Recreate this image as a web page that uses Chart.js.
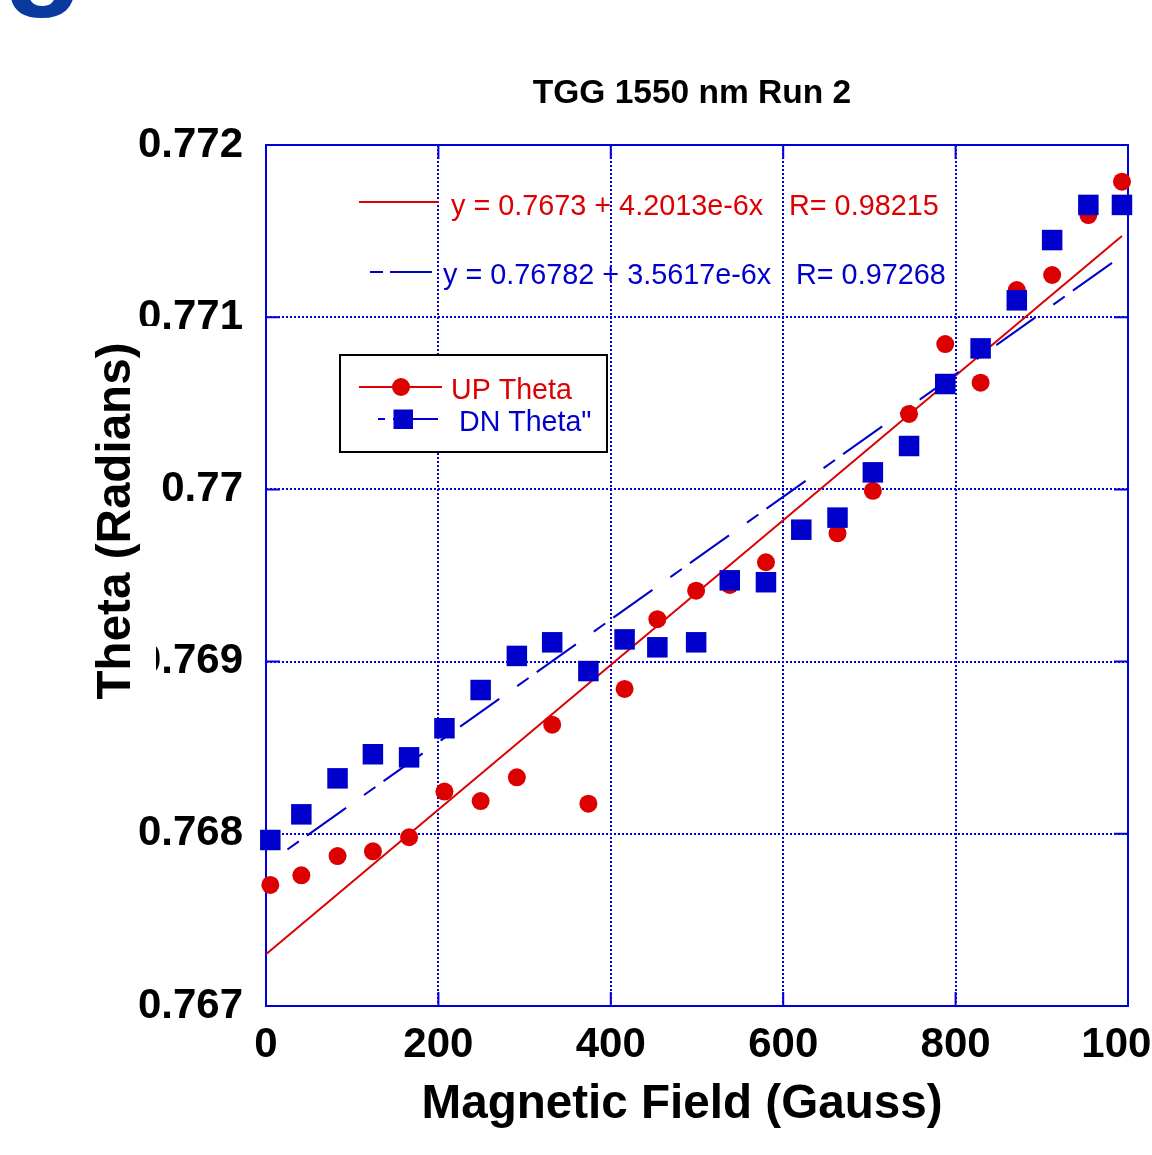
<!DOCTYPE html>
<html>
<head>
<meta charset="utf-8">
<title>TGG 1550 nm Run 2</title>
<script src="https://cdn.jsdelivr.net/npm/chart.js@4.4.1/dist/chart.umd.min.js"></script>
<style>
  html, body { margin: 0; padding: 0; background: #ffffff; }
  #wrap { width: 1152px; height: 1155px; }
  canvas { display: block; }
</style>
</head>
<body>
<div id="wrap"><canvas id="chart" width="1152" height="1155"></canvas></div>
<script>
// Magnetic field settings (Gauss) shared by both sweeps
const fieldGauss = [5, 41, 83, 124, 166, 207, 249, 291, 332, 374, 416, 454, 499,
                    538, 580, 621, 663, 704, 746, 788, 829, 871, 912, 954, 993];

// Rotation angle on the upward sweep (radians)
const upTheta = [0.767703, 0.767759, 0.767871, 0.767898, 0.767980, 0.768245, 0.768190,
                 0.768328, 0.768634, 0.768175, 0.768841, 0.769246, 0.769412, 0.769445,
                 0.769577, 0.769764, 0.769745, 0.769992, 0.770438, 0.770844, 0.770620,
                 0.771158, 0.771245, 0.771593, 0.771787];

// Rotation angle on the downward sweep (radians)
const dnTheta = [0.767964, 0.768113, 0.768322, 0.768462, 0.768444, 0.768613, 0.768835,
                 0.769033, 0.769112, 0.768945, 0.769129, 0.769083, 0.769112, 0.769472,
                 0.769461, 0.769766, 0.769836, 0.770099, 0.770252, 0.770612, 0.770819,
                 0.771098, 0.771448, 0.771652, 0.771652];

// Linear fits printed on the plot
const upFit = { intercept: 0.7673, slope: 4.2013e-6, label: 'y = 0.7673 + 4.2013e-6x', r: 'R= 0.98215' };
const dnFit = { intercept: 0.76782, slope: 3.5617e-6, label: 'y = 0.76782 + 3.5617e-6x', r: 'R= 0.97268' };
const upFitRange = [0, 993];
const dnFitRange = [5, 993];

// Axis ticks
const xTickLabels = ['0', '200', '400', '600', '800', '1000'];
const yTickLabels = ['0.767', '0.768', '0.769', '0.77', '0.771', '0.772'];

const seriesNames = ['UP Theta', 'DN Theta"'];
const chartTitle = 'TGG 1550 nm Run 2';
const xTitle = 'Magnetic Field (Gauss)';
const yTitle = 'Theta (Radians)';

const RED = '#dd0000';
const BLUE = '#0000cc';
const GRID = '#0000dd';
const FONT = "'Liberation Sans', Arial, Helvetica, sans-serif";

const fitLine = (fit, range) => range.map(x => ({ x: x, y: fit.intercept + fit.slope * x }));
const points = (ys) => fieldGauss.map((x, i) => ({ x: x, y: ys[i] }));

// Frame, inner tick marks, fit labels, legend and titles
const decorations = {
  id: 'decorations',
  beforeDatasetsDraw(chart) {
    const { ctx, chartArea: a, scales: { x, y } } = chart;
    ctx.save();
    ctx.strokeStyle = GRID;
    ctx.lineWidth = 2;
    ctx.setLineDash([]);
    ctx.strokeRect(a.left, a.top, a.right - a.left, a.bottom - a.top);
    const t = 14;
    ctx.beginPath();
    x.ticks.forEach(tk => {
      const px = x.getPixelForValue(tk.value);
      ctx.moveTo(px, a.top); ctx.lineTo(px, a.top + t);
      ctx.moveTo(px, a.bottom); ctx.lineTo(px, a.bottom - t);
    });
    y.ticks.forEach(tk => {
      const py = y.getPixelForValue(tk.value);
      ctx.moveTo(a.left, py); ctx.lineTo(a.left + t, py);
      ctx.moveTo(a.right, py); ctx.lineTo(a.right - t, py);
    });
    ctx.stroke();
    ctx.restore();
  },
  afterDatasetsDraw(chart) {
    const { ctx } = chart;
    ctx.save();
    ctx.lineCap = 'butt';

    // fit equations
    ctx.font = `28.8px ${FONT}`;
    ctx.textBaseline = 'alphabetic';
    ctx.textAlign = 'left';
    ctx.strokeStyle = RED; ctx.lineWidth = 2; ctx.setLineDash([]);
    ctx.beginPath(); ctx.moveTo(359, 202); ctx.lineTo(439, 202); ctx.stroke();
    ctx.fillStyle = RED;
    ctx.fillText(upFit.label, 451, 215);
    ctx.fillText(upFit.r, 789, 215);

    ctx.strokeStyle = BLUE;
    ctx.beginPath();
    ctx.moveTo(370, 272); ctx.lineTo(383, 272);
    ctx.moveTo(390, 272); ctx.lineTo(432, 272);
    ctx.stroke();
    ctx.fillStyle = BLUE;
    ctx.fillText(dnFit.label, 443, 284);
    ctx.fillText(dnFit.r, 796, 284);

    // legend box
    ctx.fillStyle = '#ffffff';
    ctx.fillRect(340, 355, 267, 97);
    ctx.strokeStyle = '#000000';
    ctx.lineWidth = 2;
    ctx.strokeRect(340, 355, 267, 97);

    ctx.font = `28.6px ${FONT}`;
    ctx.strokeStyle = RED; ctx.lineWidth = 2;
    ctx.beginPath(); ctx.moveTo(359, 387); ctx.lineTo(442, 387); ctx.stroke();
    ctx.fillStyle = RED;
    ctx.beginPath(); ctx.arc(401, 387, 9, 0, Math.PI * 2); ctx.fill();
    ctx.fillText(seriesNames[0], 451, 399);

    ctx.strokeStyle = BLUE;
    ctx.beginPath();
    ctx.moveTo(378, 419); ctx.lineTo(385, 419);
    ctx.moveTo(393, 419); ctx.lineTo(438, 419);
    ctx.stroke();
    ctx.fillStyle = BLUE;
    ctx.fillRect(393.5, 409.5, 19.5, 19.5);
    ctx.fillText(seriesNames[1], 459, 431);
    ctx.restore();
  },
  afterDraw(chart) {
    const { ctx } = chart;
    ctx.save();
    ctx.fillStyle = '#000000';
    ctx.textAlign = 'center';
    ctx.textBaseline = 'alphabetic';

    // chart title
    ctx.font = `bold 33.5px ${FONT}`;
    ctx.fillText(chartTitle, 692, 103);

    // x axis title
    ctx.font = `bold 47.6px ${FONT}`;
    ctx.fillText(xTitle, 682, 1118);

    // y axis title on an opaque text box
    ctx.fillStyle = '#ffffff';
    ctx.fillRect(84, 326, 72, 388);
    ctx.fillStyle = '#000000';
    ctx.translate(130, 521);
    ctx.rotate(-Math.PI / 2);
    ctx.fillText(yTitle, 0, 0);
    ctx.restore();

    // heading letter running in from above
    ctx.save();
    ctx.fillStyle = '#0a3aa0';
    ctx.font = `bold 132px ${FONT}`;
    ctx.textAlign = 'left';
    ctx.textBaseline = 'alphabetic';
    ctx.fillText('g', 3, -10);
    ctx.restore();
  }
};

new Chart(document.getElementById('chart'), {
  type: 'scatter',
  data: {
    datasets: [
      {
        type: 'line', label: 'UP fit', data: fitLine(upFit, upFitRange),
        borderColor: RED, borderWidth: 2, pointRadius: 0, fill: false,
        order: 4, clip: false
      },
      {
        type: 'line', label: 'DN fit', data: fitLine(dnFit, dnFitRange),
        borderColor: BLUE, borderWidth: 2, pointRadius: 0, fill: false,
        borderDash: [48, 22, 14, 10], borderDashOffset: 49,
        order: 3, clip: false
      },
      {
        label: seriesNames[0], data: points(upTheta),
        pointStyle: 'circle', pointRadius: 9, pointBorderWidth: 0,
        backgroundColor: RED, borderColor: RED, showLine: false,
        order: 2, clip: false
      },
      {
        label: seriesNames[1], data: points(dnTheta),
        pointStyle: 'rect', pointRadius: 14.5, pointBorderWidth: 0,
        backgroundColor: BLUE, borderColor: BLUE, showLine: false,
        order: 1, clip: false
      }
    ]
  },
  options: {
    responsive: false,
    animation: false,
    devicePixelRatio: 1,
    layout: { padding: { top: 145, right: 24, left: 0, bottom: 0 } },
    plugins: { legend: { display: false }, tooltip: { enabled: false }, title: { display: false } },
    scales: {
      x: {
        type: 'linear', position: 'bottom', min: 0, max: 1000,
        ticks: {
          stepSize: 200, maxRotation: 0, autoSkip: false, padding: 14,
          color: '#000000', font: { family: FONT, size: 42, weight: 'bold' },
          callback: (v) => xTickLabels[Math.round(v / 200)] ?? ''
        },
        grid: { color: GRID, lineWidth: 2, drawTicks: false },
        border: { display: false, dash: [2, 2] },
        afterFit: (s) => { s.height = 149; s.paddingLeft = 0; s.paddingRight = 0; }
      },
      y: {
        type: 'linear', position: 'left', min: 0.767, max: 0.772,
        ticks: {
          stepSize: 0.001, padding: 23, autoSkip: false,
          color: '#000000', font: { family: FONT, size: 42, weight: 'bold' },
          callback: (v) => yTickLabels[Math.round((v - 0.767) / 0.001)] ?? ''
        },
        grid: { color: GRID, lineWidth: 2, drawTicks: false },
        border: { display: false, dash: [2, 2] },
        afterFit: (s) => { s.width = 266; s.paddingTop = 0; s.paddingBottom = 0; }
      }
    }
  },
  plugins: [decorations]
});
</script>
</body>
</html>
